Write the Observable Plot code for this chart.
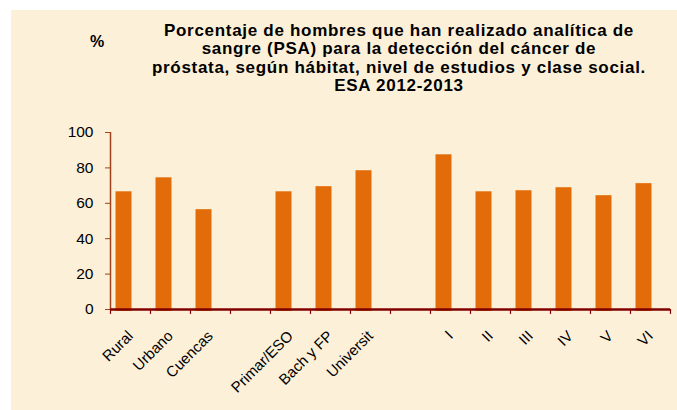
<!DOCTYPE html>
<html>
<head>
<meta charset="utf-8">
<script src="https://cdn.jsdelivr.net/npm/d3@7"></script>
<script src="https://cdn.jsdelivr.net/npm/@observablehq/plot@0.6"></script>
<style>
  html, body { margin: 0; padding: 0; background: #ffffff; }
  #wrap { position: relative; width: 677px; height: 410px; overflow: hidden; }
  #bg { position: absolute; left: 11px; top: 10px; width: 666px; height: 400px; background: #fcf0d9; }
  #title { position: absolute; left: 99px; width: 600px; top: 22px; text-align: center;
    font-family: "Liberation Sans", Arial, sans-serif; font-weight: bold; font-size: 17px; line-height: 18.3px; color: #000; letter-spacing: 0.7px; }
  #title div { height: 18.3px; }
  #pct { position: absolute; left: 90px; top: 33px; font-family: "Liberation Sans", Arial, sans-serif; font-weight: bold; font-size: 16px; color: #000; }
  #chart { position: absolute; left: 0; top: 0; }
</style>
</head>
<body>
<div id="wrap">
  <div id="bg"></div>
  <div id="pct">%</div>
  <div id="title"><div>Porcentaje de hombres que han realizado analítica de</div><div>sangre (PSA) para la detección del cáncer de</div><div>próstata, según hábitat, nivel de estudios y clase social.</div><div>ESA 2012-2013</div></div>
  <div id="chart"></div>
</div>
<script>
const habitat = ["Rural", "Urbano", "Cuencas"];
const habitatValues = [66.5, 74.4, 56.4];
const estudios = ["Primar/ESO", "Bach y FP", "Universit"];
const estudiosValues = [66.5, 69.4, 78.4];
const clase = ["I", "II", "III", "IV", "V", "VI"];
const claseValues = [87.4, 66.5, 67.1, 68.8, 64.3, 71.1];
const yTicks = [0, 20, 40, 60, 80, 100];

const gaps = ["gap1", "gap2"];
const domain = [...habitat, gaps[0], ...estudios, gaps[1], ...clase];
const data = [
  ...habitat.map((c, i) => ({cat: c, value: habitatValues[i]})),
  ...estudios.map((c, i) => ({cat: c, value: estudiosValues[i]})),
  ...clase.map((c, i) => ({cat: c, value: claseValues[i]}))
];

const step = 40;
const chart = Plot.plot({
  width: 677,
  height: 410,
  marginLeft: 110,
  marginRight: 7,
  marginTop: 132,
  marginBottom: 101,
  style: {background: "transparent", fontFamily: "'Liberation Sans', Arial, sans-serif", overflow: "visible"},
  x: {domain, paddingInner: 0.59, paddingOuter: 0.295, axis: null},
  y: {domain: [0, 100], axis: null},
  marks: [
    Plot.barY(data, {x: "cat", y: "value", fill: "#e36c0a", dx: -6.5, insetBottom: -2}),
    Plot.ruleX([domain[0]], {y1: 0, y2: 100, dx: -step / 2, stroke: "#a0421a", strokeWidth: 1.5}),
    Plot.ruleY([0], {stroke: "#800000", strokeWidth: 2.5}),
    Plot.ruleX(domain, {y1: 0, y2: -2.8, dx: -step / 2, stroke: "#800000", strokeWidth: 1.2}),
    Plot.ruleX([domain[domain.length - 1]], {y1: 0, y2: -2.8, dx: step / 2, stroke: "#800000", strokeWidth: 1.2}),
    Plot.axisY({ticks: yTicks, tickSize: 5, stroke: "#a0421a", tickPadding: 12, fontSize: 15.5, fill: "#000", label: null}),
    Plot.axisX({tickSize: 0, tickRotate: -45, tickPadding: 24, fontSize: 15, fill: "#000", label: null,
      tickFormat: d => gaps.includes(d) ? "" : d})
  ]
});
document.getElementById("chart").appendChild(chart);
</script>
</body>
</html>
